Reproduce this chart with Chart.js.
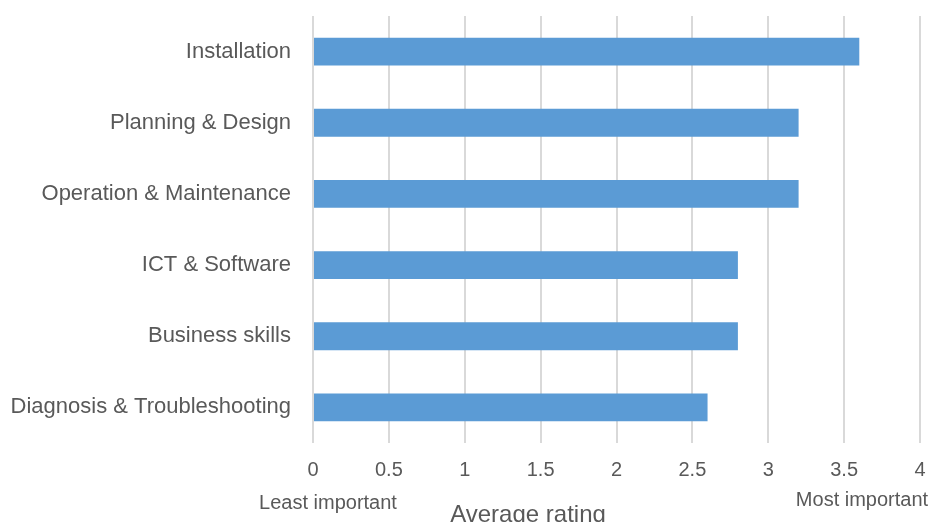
<!DOCTYPE html>
<html lang="en">
<head>
    <meta charset="UTF-8">
    <title>Average rating</title>
    <style>
        html, body { margin: 0; padding: 0; background: #fff; }
        #wrap { width: 936px; height: 522px; }
    </style>
</head>
<body>
    <div id="wrap"><canvas id="chart" width="936" height="522"></canvas></div>

    <script src="https://cdn.jsdelivr.net/npm/chart.js"></script>
    <script>
        const skills = ['Installation', 'Planning & Design', 'Operation & Maintenance',
                        'ICT & Software', 'Business skills', 'Diagnosis & Troubleshooting'];
        const ratings = [3.6, 3.2, 3.2, 2.8, 2.8, 2.6];
        const xMin = 0, xMax = 4, xStep = 0.5;

        const FONT = '"Liberation Sans", Arial, sans-serif';
        const GREY = '#595959';

        // extra captions under the x axis
        const captions = {
            id: 'captions',
            afterDraw(chart) {
                const ctx = chart.ctx;
                ctx.save();
                ctx.fillStyle = GREY;
                ctx.textBaseline = 'middle';
                ctx.textAlign = 'center';
                ctx.font = '20px ' + FONT;
                ctx.fillText('Least important', 328, 503);
                ctx.fillText('Most important', 862, 500);
                ctx.font = '24px ' + FONT;
                ctx.fillText('Average rating', 528, 515);
                ctx.restore();
            }
        };

        new Chart(document.getElementById('chart'), {
            type: 'bar',
            data: {
                labels: skills,
                datasets: [{
                    data: ratings,
                    backgroundColor: '#5b9bd5',
                    categoryPercentage: 1,
                    barPercentage: 0.39
                }]
            },
            options: {
                indexAxis: 'y',
                responsive: false,
                animation: false,
                layout: { padding: { top: 16, right: 16, left: 0, bottom: 0 } },
                plugins: { legend: { display: false }, tooltip: { enabled: false } },
                scales: {
                    x: {
                        min: xMin, max: xMax,
                        afterFit(s) { s.height = 79; s.paddingLeft = 0; s.paddingRight = 0; },
                        grid: { color: '#d9d9d9', lineWidth: 2, drawTicks: false },
                        border: { display: false },
                        ticks: { stepSize: xStep, color: GREY, padding: 15,
                                 callback: v => String(v),
                                 font: { family: FONT, size: 20 } }
                    },
                    y: {
                        afterFit(s) { s.width = 313; s.paddingTop = 0; s.paddingBottom = 0; },
                        grid: { display: false, drawTicks: false },
                        border: { display: false },
                        ticks: { color: GREY, padding: 22,
                                 font: { family: FONT, size: 22 } }
                    }
                }
            },
            plugins: [captions]
        });
    </script>
</body>
</html>
